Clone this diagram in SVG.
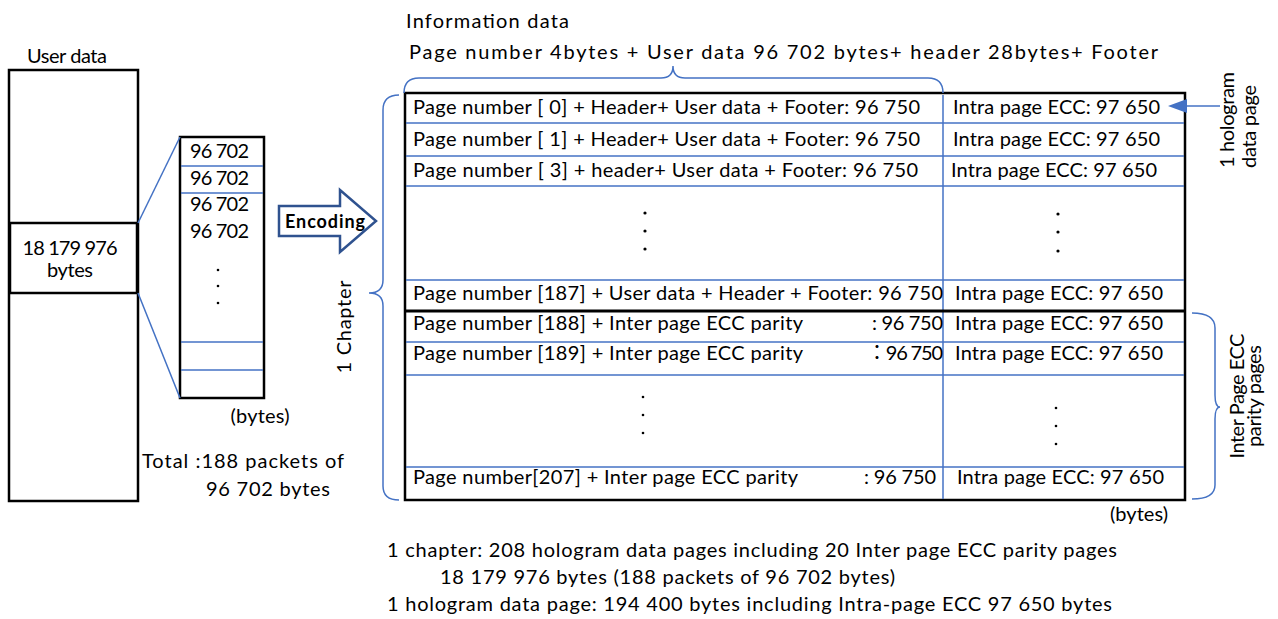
<svg xmlns="http://www.w3.org/2000/svg" width="1278" height="619" viewBox="0 0 1278 619">
<style>
text{font-family:Lato,"Open Sans","Noto Sans CJK JP",sans-serif;font-size:20px;fill:#000}
.b{fill:none;stroke:#000;stroke-width:2.5}
.bl{fill:none;stroke:#4472C4;stroke-width:1.5}
.br{fill:none;stroke:#4472C4;stroke-width:1.5}
.dot{fill:#000}
.enc{font-weight:bold;font-size:18px}
</style>
<rect width="1278" height="619" fill="#fff"/>

<g id="user-data">
<text x="27" y="63" textLength="80">User data</text>
<rect class="b" x="9" y="70" width="129" height="431"/>
<rect class="b" x="10" y="223" width="127" height="70"/>
<text x="70" y="255" text-anchor="middle" textLength="95">18 179 976</text>
<text x="70" y="277" text-anchor="middle" textLength="46">bytes</text>
</g>

<g id="packets">
<rect class="b" x="180" y="137" width="84" height="261"/>
<line class="bl" x1="181" y1="166" x2="263" y2="166"/>
<line class="bl" x1="181" y1="193" x2="263" y2="193"/>
<line class="bl" x1="181" y1="342" x2="263" y2="342"/>
<line class="bl" x1="181" y1="370" x2="263" y2="370"/>
<text x="190" y="158" textLength="59">96 702</text>
<text x="190" y="185" textLength="59">96 702</text>
<text x="190" y="211" textLength="59">96 702</text>
<text x="190" y="238" textLength="59">96 702</text>
<circle class="dot" cx="218" cy="270" r="1.3"/>
<circle class="dot" cx="218" cy="286" r="1.3"/>
<circle class="dot" cx="218" cy="303" r="1.3"/>
<text x="260" y="423" text-anchor="middle" textLength="59">(bytes)</text>
<text x="142" y="468" textLength="202">Total :188 packets of</text>
<text x="206" y="496" textLength="124">96 702 bytes</text>
</g>

<g id="encoding">
<polygon points="279,206 340,206 340,190 376,221 340,252 340,236 279,236" fill="#fff" stroke="#2F528F" stroke-width="2.5"/>
<text class="enc" x="285" y="228" textLength="80">Encoding</text>
</g>

<g id="headings">
<text x="406" y="28" textLength="163">Information data</text>
<text x="409" y="59" textLength="749">Page number 4bytes + User data 96 702 bytes+ header 28bytes+ Footer</text>
<text transform="translate(351,327) rotate(-90)" text-anchor="middle" textLength="93">1 Chapter</text>
<text transform="translate(1234,168) rotate(-90)" textLength="96">1 hologram</text>
<text transform="translate(1256,168) rotate(-90)" textLength="83">data page</text>
<text transform="translate(1244,396) rotate(-90)" text-anchor="middle" textLength="125">Inter Page ECC</text>
<text transform="translate(1261,396) rotate(-90)" text-anchor="middle" textLength="102">parity pages</text>
<text x="1110" y="521" textLength="58">(bytes)</text>
</g>

<g id="table">
<rect class="b" x="405" y="93" width="780" height="407"/>
<line class="bl" x1="943" y1="95" x2="943" y2="499"/>
<line class="bl" x1="406" y1="123" x2="1184" y2="123"/>
<line class="bl" x1="406" y1="156" x2="1184" y2="156"/>
<line class="bl" x1="406" y1="186" x2="1184" y2="186"/>
<line class="bl" x1="406" y1="280" x2="1184" y2="280"/>
<line x1="405" y1="311" x2="1185" y2="311" stroke="#000" stroke-width="3"/>
<line class="bl" x1="406" y1="342" x2="1184" y2="342"/>
<line class="bl" x1="406" y1="375" x2="1184" y2="375"/>
<line class="bl" x1="406" y1="467" x2="1184" y2="467"/>

<text x="413" y="114" textLength="507">Page number [ 0] + Header+ User data + Footer: 96 750</text>
<text x="953" y="114" textLength="207">Intra page ECC: 97 650</text>
<text x="413" y="146" textLength="507">Page number [ 1] + Header+ User data + Footer: 96 750</text>
<text x="953" y="146" textLength="207">Intra page ECC: 97 650</text>
<text x="413" y="177" textLength="505">Page number [ 3] + header+ User data + Footer: 96 750</text>
<text x="951" y="177" textLength="206">Intra page ECC: 97 650</text>
<circle class="dot" cx="645" cy="213" r="1.6"/>
<circle class="dot" cx="645" cy="231" r="1.6"/>
<circle class="dot" cx="645" cy="249" r="1.6"/>
<circle class="dot" cx="1058" cy="214" r="1.6"/>
<circle class="dot" cx="1058" cy="232" r="1.6"/>
<circle class="dot" cx="1058" cy="251" r="1.6"/>
<text x="413" y="300" textLength="530">Page number [187] + User data + Header + Footer: 96 750</text>
<text x="955" y="300" textLength="208">Intra page ECC: 97 650</text>
<text x="413" y="330" textLength="390">Page number [188] + Inter page ECC parity</text>
<text x="943" y="330" text-anchor="end" textLength="71">: 96 750</text>
<text x="955" y="330" textLength="208">Intra page ECC: 97 650</text>
<text x="413" y="360" textLength="390">Page number [189] + Inter page ECC parity</text>
<text x="943" y="360" text-anchor="end" textLength="76">：96 750</text>
<text x="955" y="360" textLength="208">Intra page ECC: 97 650</text>
<circle class="dot" cx="643" cy="397" r="1.3"/>
<circle class="dot" cx="643" cy="415" r="1.3"/>
<circle class="dot" cx="643" cy="433" r="1.3"/>
<circle class="dot" cx="1056" cy="408" r="1.3"/>
<circle class="dot" cx="1056" cy="426" r="1.3"/>
<circle class="dot" cx="1056" cy="444" r="1.3"/>
<text x="413" y="484" textLength="385">Page number[207] + Inter page ECC parity</text>
<text x="936" y="484" text-anchor="end" textLength="72">: 96 750</text>
<text x="957" y="484" textLength="207">Intra page ECC: 97 650</text>
</g>

<g id="notes">
<text x="387" y="557" textLength="730">1 chapter: 208 hologram data pages including 20 Inter page ECC parity pages</text>
<text x="440" y="584" textLength="455">18 179 976 bytes (188 packets of 96 702 bytes)</text>
<text x="387" y="611" textLength="725">1 hologram data page: 194 400 bytes including Intra-page ECC 97 650 bytes</text>
</g>

<g id="connectors">
<line class="bl" x1="138" y1="223" x2="180" y2="137"/>
<line class="bl" x1="138" y1="293" x2="180" y2="398"/>
<path class="br" d="M404,93 Q404,78 419,78 L661,78 Q673,78 673,66 Q673,78 685,78 L928,78 Q943,78 943,93"/>
<path class="br" d="M399,95 Q383,95 383,110 L383,280 Q383,293 369,293 Q383,293 383,306 L383,486 Q383,500 399,500"/>
<path class="br" d="M1192,313 Q1215,313 1215,328 L1215,395 Q1215,407 1220,407 Q1215,407 1215,419 L1215,485 Q1215,499 1192,499"/>
<line class="bl" x1="1220" y1="106" x2="1186" y2="106"/>
<polygon points="1168,106 1187,99 1187,113" fill="#4472C4"/>
</g>
</svg>
